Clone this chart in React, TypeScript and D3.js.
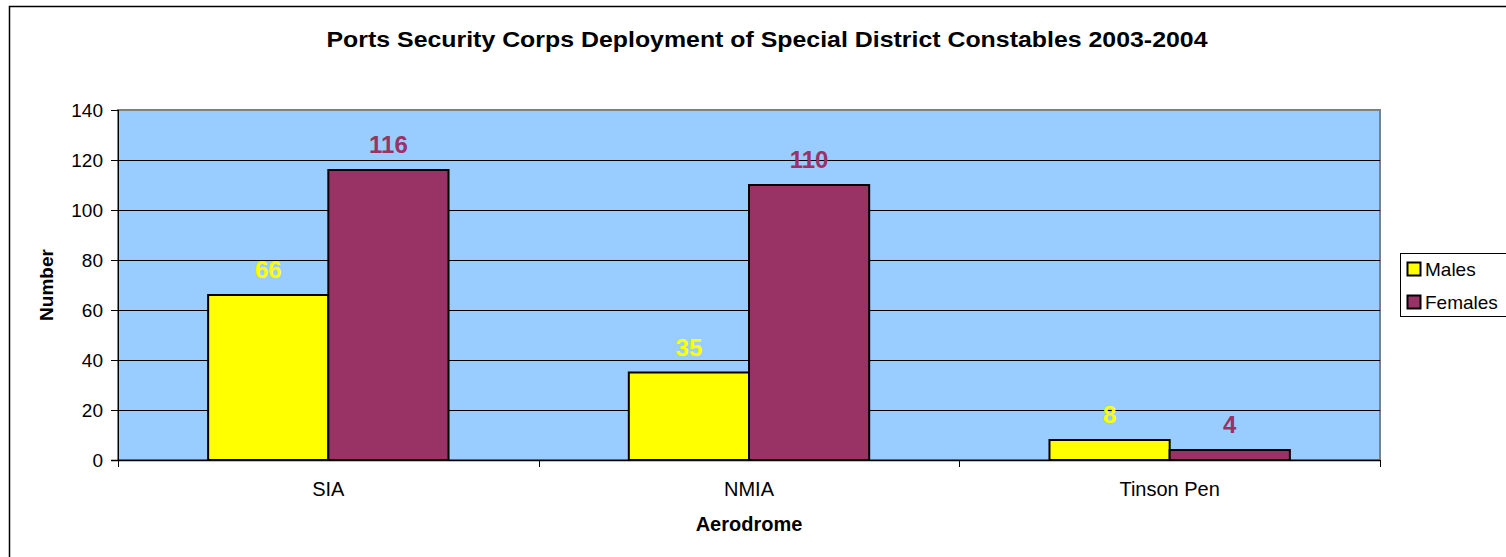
import * as React from 'react'
import * as d3 from 'd3'

const categories = ['SIA', 'NMIA', 'Tinson Pen']
const seriesNames = ['Males', 'Females']
const males = [66, 35, 8]
const females = [116, 110, 4]
const yTicks = [0, 20, 40, 60, 80, 100, 120, 140]
const colors = ['#FFFF00', '#993366']

const W = 1506
const H = 557
const margin = { left: 118, top: 110, right: 126, bottom: 97 }
const font = 'Arial, "Liberation Sans", Helvetica, sans-serif'

export default function App() {
    const x0 = d3.scaleBand<string>()
        .domain(categories)
        .range([margin.left, W - margin.right])
        .padding(0)

    const x1 = d3.scaleBand<string>()
        .domain(seriesNames)
        .range([0, x0.bandwidth()])
        .paddingInner(0)
        .paddingOuter(0.75)

    const y = d3.scaleLinear()
        .domain([0, 140])
        .range([H - margin.bottom, margin.top])

    const values = [males, females]
    const plotW = W - margin.left - margin.right
    const plotH = H - margin.top - margin.bottom
    const bottom = H - margin.bottom
    const catEdges = [...categories.map(c => x0(c) as number), W - margin.right]

    return (
        <svg width={W} height={H} style={{ position: 'absolute', left: 0, top: 0 }} fontFamily={font}>
            <rect x={0} y={0} width={W} height={H} fill='#fff' />
            {/* outer chart border */}
            <rect x={9.5} y={6.5} width={W + 10} height={H + 10} fill='none' stroke='#000' strokeWidth={1.5} />

            <text x={767} y={47} textAnchor='middle' fontSize={22} fontWeight='bold'
                textLength={881} lengthAdjust='spacingAndGlyphs'>
                Ports Security Corps Deployment of Special District Constables 2003-2004
            </text>

            {/* plot area */}
            <rect x={margin.left} y={margin.top} width={plotW} height={plotH} fill='#99CCFF' stroke='#808080' strokeWidth={2} />

            {/* gridlines + y ticks */}
            {yTicks.map(t => (
                <g key={t}>
                    {t > 0 && t < 140 && (
                        <line x1={margin.left} x2={W - margin.right} y1={Math.round(y(t)) + 0.5} y2={Math.round(y(t)) + 0.5} stroke='#000' strokeWidth={1} />
                    )}
                    <line x1={margin.left - 7} x2={margin.left} y1={Math.round(y(t)) + 0.5} y2={Math.round(y(t)) + 0.5} stroke='#000' strokeWidth={1} />
                    <text x={103} y={y(t)} dy='0.36em' textAnchor='end' fontSize={19}>{t}</text>
                </g>
            ))}

            {/* bars */}
            {categories.map((c, i) => (
                <g key={c} transform={`translate(${x0(c)},0)`}>
                    {seriesNames.map((s, j) => (
                        <rect key={s}
                            x={x1(s)} y={y(values[j][i])}
                            width={x1.bandwidth()} height={bottom - y(values[j][i])}
                            fill={colors[j]} stroke='#000' strokeWidth={2} />
                    ))}
                </g>
            ))}

            {/* x axis */}
            <line x1={margin.left - 7} x2={W - margin.right} y1={bottom + 0.5} y2={bottom + 0.5} stroke='#000' strokeWidth={1.5} />
            {catEdges.map((e, i) => (
                <line key={i} x1={Math.round(e) + 0.5} x2={Math.round(e) + 0.5} y1={bottom} y2={bottom + 7} stroke='#000' strokeWidth={1} />
            ))}
            <line x1={margin.left + 0.5} x2={margin.left + 0.5} y1={margin.top} y2={bottom + 7} stroke='#000' strokeWidth={1} />

            {/* value labels */}
            {categories.map((c, i) => seriesNames.map((s, j) => (
                <text key={c + s}
                    x={(x0(c) as number) + (x1(s) as number) + x1.bandwidth() / 2}
                    y={y(values[j][i]) - 17}
                    textAnchor='middle' fontSize={24} fontWeight='bold' fill={colors[j]}>
                    {values[j][i]}
                </text>
            )))}

            {/* category labels */}
            {categories.map(c => (
                <text key={c} x={(x0(c) as number) + x0.bandwidth() / 2} y={496} textAnchor='middle' fontSize={20}>{c}</text>
            ))}

            <text x={749} y={531} textAnchor='middle' fontSize={20} fontWeight='bold'>Aerodrome</text>
            <text transform={`translate(53,${margin.top + plotH / 2}) rotate(-90)`} textAnchor='middle' fontSize={19} fontWeight='bold'>Number</text>

            {/* legend */}
            <rect x={1400.5} y={253.5} width={120} height={63} fill='#fff' stroke='#000' strokeWidth={1} />
            {seriesNames.map((s, j) => (
                <g key={s} transform={`translate(1407,${262 + j * 33})`}>
                    <rect x={0.5} y={0.5} width={13} height={13} fill={colors[j]} stroke='#000' strokeWidth={2} />
                    <text x={18} y={13.5} fontSize={19}>{s}</text>
                </g>
            ))}
        </svg>
    )
}
